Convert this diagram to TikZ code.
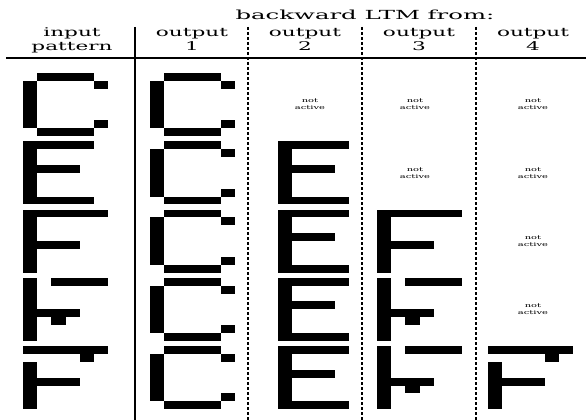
\documentclass[tikz,border=0pt]{standalone}
\usepackage{fontspec}
\setmainfont{DejaVu Serif}
\begin{document}
\begin{tikzpicture}[x=1pt,y=-1pt,
  hdr/.style={font=\fontsize{12}{14}\selectfont, xscale=1.8, inner sep=0pt, anchor=base},
  ttl/.style={font=\fontsize{12.5}{15}\selectfont, xscale=1.95, inner sep=0pt, anchor=base},
  na/.style={font=\fontsize{5.5}{7}\selectfont, xscale=1.8, align=center, inner sep=0pt},
  solidline/.style={line width=1.3pt},
  dashline/.style={line width=1.3pt, dash pattern=on 3pt off 2pt}]
\useasboundingbox[fill=white] (0,0) rectangle (586,420);
% pixel glyphs: col/row/width/height in cells (14.2 x 7.9)
\def\GC{1/0/4/1, 0/1/1/6, 5/1/1/1, 5/6/1/1, 1/7/4/1}
\def\GE{0/0/5/1, 0/1/1/7, 1/3/3/1, 1/7/4/1}
\def\GF{0/0/6/1, 0/1/1/7, 1/4/3/1}
\def\GFb{0/0/1/8, 2/0/4/1, 1/4/3/1, 2/5/1/1}
\def\GFc{0/0/6/1, 4/1/1/1, 0/2/1/6, 1/4/3/1}
\newcommand\glyph[3]{\foreach \c/\r/\w/\h in #3 {\fill[black] (#1+\c*14.2,#2+\r*7.9) rectangle ++(\w*14.2,\h*7.9);}}
% header
\node[ttl] (title) at (365,20) {backward LTM from:};
\node[hdr] (h0a) at (72,37) {input};
\node[hdr] (h0b) at (72,51) {pattern};
\node[hdr] (h1a) at (192,37) {output};
\node[hdr] (h1b) at (192,51) {1};
\node[hdr] (h2a) at (305,37) {output};
\node[hdr] (h2b) at (305,51) {2};
\node[hdr] (h3a) at (419,37) {output};
\node[hdr] (h3b) at (419,51) {3};
\node[hdr] (h4a) at (533,37) {output};
\node[hdr] (h4b) at (533,51) {4};
% rules
\coordinate (rl) at (6,58); \coordinate (rr) at (586,58);
\draw[solidline] (rl) -- (rr);
\coordinate (s0) at (135,27); \coordinate (s1) at (135,420);
\draw[solidline] (s0) -- (s1);
\foreach \x/\n in {248/a,362/b,476/c}{
  \coordinate (d\n0) at (\x,27); \coordinate (d\n1) at (\x,420);
  \draw[dashline] (d\n0) -- (d\n1);}
% input column
\glyph{23}{73}{\GC}
\glyph{23}{141.25}{\GE}
\glyph{23}{209.5}{\GF}
\glyph{23}{277.75}{\GFb}
\glyph{23}{346}{\GFc}
% output 1
\foreach \y in {73,141.25,209.5,277.75,346}{\glyph{150}{\y}{\GC}}
% output 2
\node[na] (n20) at (310,104.6) {not\\active};
\foreach \y in {141.25,209.5,277.75,346}{\glyph{278}{\y}{\GE}}
% output 3
\node[na] (n30) at (415,104.6) {not\\active};
\node[na] (n31) at (415,172.9) {not\\active};
\glyph{377}{209.5}{\GF}
\glyph{377}{277.75}{\GFb}
\glyph{377}{346}{\GFb}
% output 4
\node[na] (n40) at (533,104.6) {not\\active};
\node[na] (n41) at (533,172.9) {not\\active};
\node[na] (n42) at (533,241.1) {not\\active};
\node[na] (n43) at (533,309.4) {not\\active};
\glyph{488}{346}{\GFc}
\end{tikzpicture}
\end{document}
